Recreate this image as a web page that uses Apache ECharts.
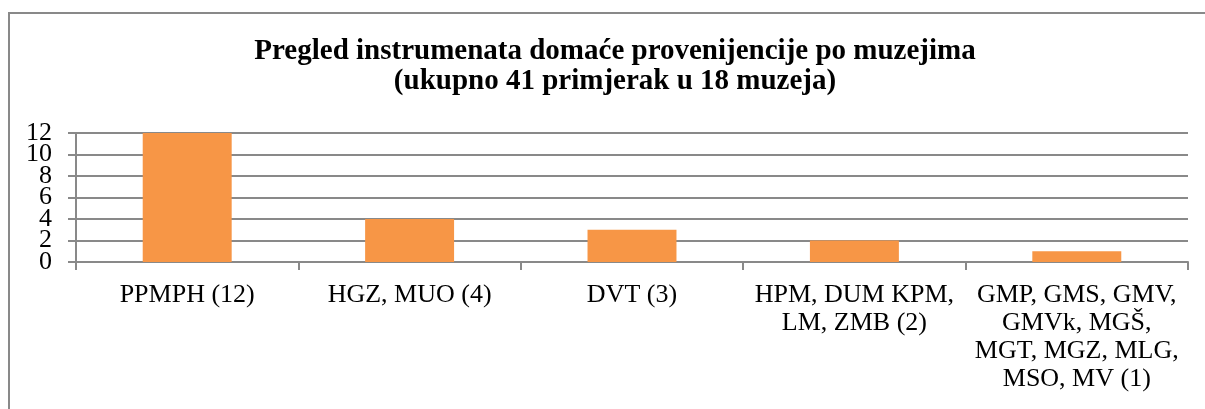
<!DOCTYPE html>
<html>
<head>
<meta charset="utf-8">
<script src="https://cdn.jsdelivr.net/npm/echarts@6/dist/echarts.min.js"></script>
<style>
  html, body { margin: 0; padding: 0; background: #fff; }
  #chart { width: 1205px; height: 409px; }
</style>
</head>
<body>
<div id="chart"></div>
<script>
// Museums grouped by number of domestic instruments held
const categories = [
  'PPMPH (12)',
  'HGZ, MUO (4)',
  'DVT (3)',
  'HPM, DUM KPM,\nLM, ZMB (2)',
  'GMP, GMS, GMV,\nGMVk, MGŠ,\nMGT, MGZ, MLG,\nMSO, MV (1)'
];
const counts = [12, 4, 3, 2, 1];
const titleLines = [
  'Pregled instrumenata domaće provenijencije po muzejima',
  '(ukupno 41 primjerak u 18 muzeja)'
];
const yMin = 0;
const yMax = 12;
const yStep = 2;

const serif = '"Liberation Serif", "Times New Roman", serif';
const gridColor = '#898989';

// The tick labels sit very close together, so they are split over two
// stacked axes (alternating values) to keep every number visible.
function valueAxis(showEven, main) {
  return {
    type: 'value',
    position: 'left',
    min: yMin,
    max: yMax,
    interval: yStep,
    axisLine: { show: main, lineStyle: { color: gridColor, width: 2 } },
    axisTick: { show: main, length: 8, lineStyle: { color: gridColor, width: 2 } },
    splitLine: { show: main, lineStyle: { color: gridColor, width: 2 } },
    axisLabel: {
      margin: 24,
      showMinLabel: true,
      showMaxLabel: true,
      hideOverlap: false,
      fontFamily: serif,
      fontSize: 26,
      color: '#000',
      formatter: v => ((v / yStep) % 2 === 0) === showEven ? String(v) : ''
    }
  };
}

const chart = echarts.init(document.getElementById('chart'), null, { renderer: 'canvas' });
chart.setOption({
  animation: false,
  backgroundColor: '#fff',
  graphic: [{
    type: 'rect',
    shape: { x: 9, y: 13, width: 1220, height: 420 },
    style: { fill: 'none', stroke: gridColor, lineWidth: 2 },
    silent: true
  }],
  title: {
    text: titleLines.join('\n'),
    left: 610,
    textAlign: 'center',
    top: 32,
    textStyle: {
      fontFamily: serif,
      fontSize: 29,
      fontWeight: 'bold',
      color: '#000',
      lineHeight: 30
    }
  },
  grid: { left: 76, right: 17, top: 133, bottom: 147, containLabel: false },
  xAxis: {
    type: 'category',
    data: categories,
    axisLine: { lineStyle: { color: gridColor, width: 2 } },
    axisTick: { show: true, length: 8, alignWithLabel: false, lineStyle: { color: gridColor, width: 2 } },
    axisLabel: {
      interval: 0,
      margin: 19,
      fontFamily: serif,
      fontSize: 26,
      lineHeight: 28,
      color: '#000'
    }
  },
  yAxis: [valueAxis(true, true), valueAxis(false, false)],
  series: [{
    type: 'bar',
    yAxisIndex: 0,
    data: counts,
    barWidth: '40%',
    itemStyle: { color: '#F79646' }
  }]
});
</script>
</body>
</html>
